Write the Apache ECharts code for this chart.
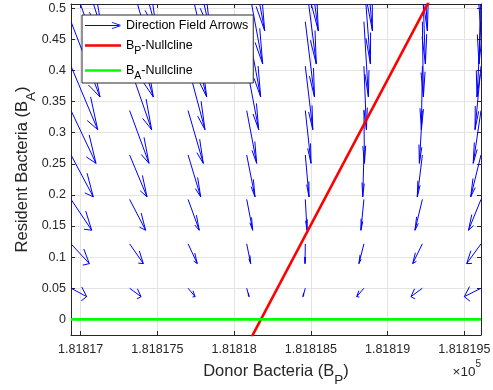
<!DOCTYPE html>
<html><head><meta charset="utf-8">
<script src="https://cdn.jsdelivr.net/npm/echarts@6/dist/echarts.min.js"></script>
<style>html,body{margin:0;padding:0;background:#fff}#c{width:493px;height:390px}</style>
</head><body><div id="c"></div>
<script>
// ---- data (B_P in bacteria counts, axis labels shown in units of 1e5) ----
const bpGrid = [181816.937, 181817.319, 181817.700, 181818.082, 181818.464, 181818.846, 181819.227, 181819.609];
const baGrid = [0.05, 0.1214, 0.1929, 0.2643, 0.3357, 0.4071, 0.4786, 0.55, 0.6214];
// scaled arrow components: dB_P for each column (one value per row), dB_A per row
const arrowU = [
  [0.1023, 0.1193, 0.1349, 0.1453, 0.1629, 0.1740, 0.1890, 0.1988, 0.2020],
  [0.0743, 0.0893, 0.1043, 0.1134, 0.1264, 0.1434, 0.1545, 0.1662, 0.1760],
  [0.0456, 0.0600, 0.0730, 0.0821, 0.0991, 0.1101, 0.1212, 0.1336, 0.1434],
  [0.0150, 0.0261, 0.0391, 0.0541, 0.0652, 0.0782, 0.0912, 0.1043, 0.1173],
  [-0.0150, -0.0020, 0.0111, 0.0241, 0.0371, 0.0489, 0.0600, 0.0717, 0.0847],
  [-0.0469, -0.0326, -0.0196, -0.0078, 0.0033, 0.0163, 0.0293, 0.0424, 0.0554],
  [-0.0743, -0.0632, -0.0482, -0.0332, -0.0196, -0.0065, 0.0065, 0.0196, 0.0326],
  [-0.1088, -0.0932, -0.0815, -0.0671, -0.0508, -0.0391, -0.0261, -0.0130, 0.0000]
];
const arrowV = [-0.0135, -0.0318, -0.0497, -0.0674, -0.0849, -0.1021, -0.1211, -0.1395, -0.1576];
// B_P nullcline (straight line) and B_A nullcline (B_A = 0)
const nullPx = [181818.068, 181819.353];
const nullPy = [-0.05, 0.55];
const nullAx = [181816.937, 181819.609];
const nullAy = [0, 0];
// axes
const xRange = [181816.937, 181819.609];
const yRange = [-0.0252, 0.507];
const xTicks = [181817, 181817.5, 181818, 181818.5, 181819, 181819.5];
const xTickLabels = ['1.81817', '1.818175', '1.81818', '1.818185', '1.81819', '1.818195'];
const yTicks = [0, 0.05, 0.1, 0.15, 0.2, 0.25, 0.3, 0.35, 0.4, 0.45, 0.5];
const yTickLabels = ['0', '0.05', '0.1', '0.15', '0.2', '0.25', '0.3', '0.35', '0.4', '0.45', '0.5'];
const seriesNames = ['Direction Field Arrows', 'BP-Nullcline', 'BA-Nullcline'];

// ---- build ----
const FONT = "'Liberation Sans', Arial, Helvetica, sans-serif";
const AX = '#262626';
const quiverData = [];
bpGrid.forEach((x, c) => baGrid.forEach((y, r) => quiverData.push([x, y, arrowU[c][r], arrowV[r]])));

function lab(arr, ticks) {
  return v => { let best = 0; for (let i = 0; i < ticks.length; i++) if (Math.abs(ticks[i] - v) < Math.abs(ticks[best] - v)) best = i; return arr[best]; };
}

const chart = echarts.init(document.getElementById('c'), null, {renderer: 'canvas'});
const subRich = {
  n: {fontSize: 16.5, fontFamily: FONT, color: AX},
  s: {fontSize: 13.5, lineHeight: 13.5, fontFamily: FONT, color: AX, padding: [17, 0, 0, 0]}
};
const baseX = {
  type: 'value', min: xRange[0], max: xRange[1],
  axisLine: {show: true, onZero: false, lineStyle: {color: AX, width: 1}},
  axisTick: {show: true, inside: true, length: 4, customValues: xTicks, lineStyle: {color: AX}},
  splitLine: {show: false}
};
const baseY = {
  type: 'value', min: yRange[0], max: yRange[1],
  axisLine: {show: true, onZero: false, lineStyle: {color: AX, width: 1}},
  axisTick: {show: true, inside: true, length: 4, customValues: yTicks, lineStyle: {color: AX}},
  splitLine: {show: false}
};
chart.setOption({
  animation: false,
  backgroundColor: '#fff',
  grid: {left: 71, right: 12, top: 4, bottom: 55, containLabel: false, outerBoundsMode: 'none'},
  xAxis: [
    Object.assign({}, baseX, {
      position: 'bottom',
      axisLabel: {show: true, customValues: xTicks, formatter: lab(xTickLabels, xTicks), margin: 8, fontSize: 12.5, fontFamily: FONT, color: AX},
      splitLine: {show: true, customValues: xTicks, lineStyle: {color: '#e3e3e3', width: 1}},
      name: '{n|Donor Bacteria (B}{s|P}{n|)}', nameLocation: 'middle', nameGap: 28, nameMoveOverlap: false,
      nameTextStyle: {rich: subRich}
    }),
    Object.assign({}, baseX, {position: 'top', axisLabel: {show: false}})
  ],
  yAxis: [
    Object.assign({}, baseY, {
      position: 'left',
      axisLabel: {show: true, customValues: yTicks, formatter: lab(yTickLabels, yTicks), margin: 5, fontSize: 12.5, fontFamily: FONT, color: AX},
      splitLine: {show: true, customValues: yTicks, lineStyle: {color: '#e3e3e3', width: 1}},
      name: '{n|Resident Bacteria (B}{s|A}{n|)}', nameLocation: 'middle', nameGap: 40, nameMoveOverlap: false,
      nameTextStyle: {rich: subRich}
    }),
    Object.assign({}, baseY, {position: 'right', axisLabel: {show: false}})
  ],
  legend: {
    orient: 'vertical', left: 82, top: 15, selectedMode: false,
    padding: [4, 5, 1, 3], itemGap: 2, itemWidth: 36, itemHeight: 12,
    backgroundColor: '#fff', borderColor: AX, borderWidth: 1, borderRadius: 0,
    itemStyle: {borderWidth: 0},
    data: [
      {name: seriesNames[0], icon: 'path://M0,3.6 L35,3.6 L35,4.4 L0,4.4 Z M27,0.6 L36,3.6 L36,4.4 L26.8,1.3 Z M27,7.4 L36,4.4 L36,3.6 L26.8,6.7 Z'},
      {name: seriesNames[1], icon: 'path://M0,0 L36,0 L36,2.6 L0,2.6 Z'},
      {name: seriesNames[2], icon: 'path://M0,0 L36,0 L36,2.6 L0,2.6 Z'}
    ],
    formatter: name => name === seriesNames[0] ? '{n|' + name + '}' : '{n|B}{s|' + name.charAt(1) + '}{n|' + name.slice(2) + '}',
    textStyle: {
      rich: {
        n: {fontSize: 12.5, lineHeight: 12, fontFamily: FONT, color: '#000'},
        s: {fontSize: 10.5, lineHeight: 10.5, fontFamily: FONT, color: '#000', padding: [12, 0, 0, 0]}
      }
    }
  },
  graphic: [{
    type: 'text', x: 481, y: 372, z: 100,
    style: {
      text: '{m|×10}{p|5}', align: 'right', verticalAlign: 'middle',
      rich: {
        m: {fontSize: 13.5, fontFamily: FONT, fill: AX, color: AX},
        p: {fontSize: 10, lineHeight: 10, fontFamily: FONT, fill: AX, color: AX, padding: [0, 0, 16, 0]}
      }
    }
  }],
  series: [
    {
      name: seriesNames[0], type: 'custom', clip: true, z: 2,
      color: '#0000ff', itemStyle: {color: '#0000ff'},
      encode: {x: 0, y: 1},
      data: quiverData,
      renderItem: (params, api) => {
        const x = api.value(0), y = api.value(1), u = api.value(2), v = api.value(3);
        const a = 0.33, b = 0.33;
        const tail = api.coord([x, y]);
        const tip = api.coord([x + u, y + v]);
        const h1 = api.coord([x + u - a * (u + b * v), y + v - a * (v - b * u)]);
        const h2 = api.coord([x + u - a * (u - b * v), y + v - a * (v + b * u)]);
        const st = {stroke: '#0000ff', lineWidth: 1, fill: null};
        return {type: 'group', children: [
          {type: 'polyline', shape: {points: [tail, tip]}, style: st},
          {type: 'polyline', shape: {points: [h1, tip, h2]}, style: st}
        ]};
      }
    },
    {
      name: seriesNames[1], type: 'line', z: 3, clip: true, showSymbol: false, symbol: 'none',
      color: '#ff0000', itemStyle: {color: '#ff0000'},
      lineStyle: {color: '#ff0000', width: 2.6},
      data: nullPx.map((x, i) => [x, nullPy[i]])
    },
    {
      name: seriesNames[2], type: 'line', z: 3, clip: true, showSymbol: false, symbol: 'none',
      color: '#00ff00', itemStyle: {color: '#00ff00'},
      lineStyle: {color: '#00ff00', width: 2.6},
      data: nullAx.map((x, i) => [x, nullAy[i]])
    }
  ]
});
</script>
</body></html>
